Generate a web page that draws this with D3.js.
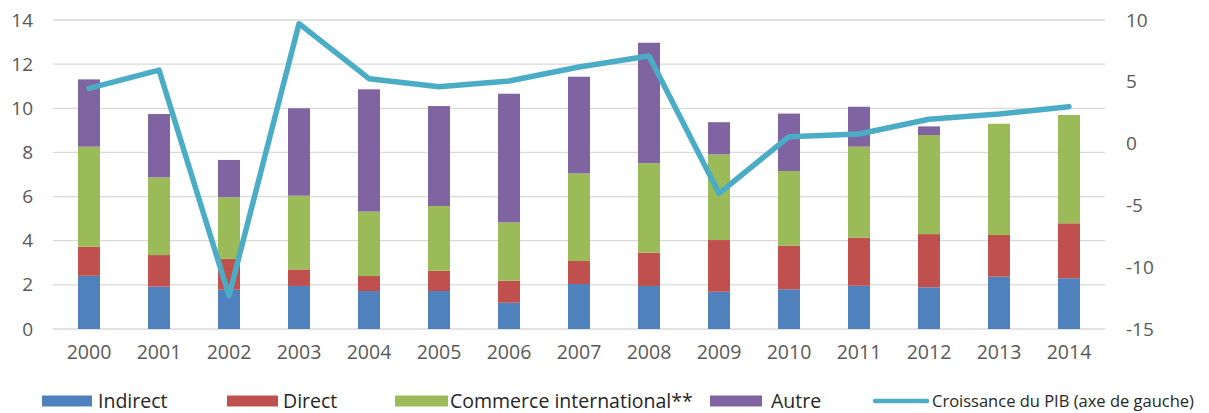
<!DOCTYPE html>
<html>
<head>
<meta charset="utf-8">
<script src="https://cdn.jsdelivr.net/npm/d3@7"></script>
<style>
  html, body { margin: 0; padding: 0; background: #fff; }
  svg { display: block; }
  text { font-family: "Open Sans", sans-serif; }
</style>
</head>
<body>
<svg id="chart" width="1209" height="413"></svg>
<script>
const years = ["2000","2001","2002","2003","2004","2005","2006","2007","2008","2009","2010","2011","2012","2013","2014"];
const indirect = [2.41, 1.92, 1.78, 1.95, 1.72, 1.72, 1.19, 2.04, 1.95, 1.69, 1.80, 1.96, 1.89, 2.37, 2.30];
const direct   = [1.32, 1.43, 1.40, 0.75, 0.68, 0.92, 1.00, 1.04, 1.51, 2.34, 1.97, 2.18, 2.41, 1.89, 2.49];
const commerce = [4.53, 3.52, 2.79, 3.34, 2.92, 2.93, 2.64, 3.97, 4.05, 3.88, 3.39, 4.12, 4.49, 5.04, 4.91];
const autre    = [3.05, 2.87, 1.69, 3.96, 5.54, 4.53, 5.83, 4.38, 5.46, 1.46, 2.60, 1.81, 0.39, 0.00, 0.00];
const pib      = [4.47, 5.95, -12.3, 9.7, 5.25, 4.6, 5.06, 6.2, 7.09, -4.02, 0.56, 0.78, 1.97, 2.4, 2.99];
const leftTicks  = [0, 2, 4, 6, 8, 10, 12, 14];
const rightTicks = [-15, -10, -5, 0, 5, 10];
const seriesNames = ["Indirect", "Direct", "Commerce international**", "Autre"];
const lineName = "Croissance du PIB (axe de gauche)";
const colors = ["#4F81BD", "#C0504D", "#9BBB59", "#8064A2"];
const lineColor = "#4BACC6";

const svg = d3.select("#chart");
const plot = { left: 54, right: 1104, top: 20, bottom: 329 };

const x = d3.scaleBand().domain(years).range([plot.left, plot.right])
  .paddingInner(0.686).paddingOuter(0.343);
const yL = d3.scaleLinear().domain([0, 14]).range([plot.bottom, plot.top]);
const yR = d3.scaleLinear().domain([-15, 10]).range([plot.bottom, plot.top]);

// gridlines
svg.append("g").selectAll("line").data(leftTicks).join("line")
  .attr("x1", plot.left - 1).attr("x2", plot.right + 1)
  .attr("y1", d => yL(d)).attr("y2", d => yL(d))
  .attr("stroke", "#d9d9d9").attr("stroke-width", 1.3);

// stacked bars
const table = years.map((yr, i) => ({ year: yr, s0: indirect[i], s1: direct[i], s2: commerce[i], s3: autre[i] }));
const stack = d3.stack().keys(["s0","s1","s2","s3"])(table);
svg.append("g").selectAll("g").data(stack).join("g")
  .attr("fill", (d, i) => colors[i])
  .selectAll("rect").data(d => d).join("rect")
  .attr("x", d => x(d.data.year))
  .attr("width", x.bandwidth())
  .attr("y", d => yL(d[1]))
  .attr("height", d => Math.max(0, yL(d[0]) - yL(d[1])));

// line
const line = d3.line().x((d, i) => x(years[i]) + x.bandwidth() / 2).y(d => yR(d));
svg.append("path").datum(pib)
  .attr("d", line).attr("fill", "none")
  .attr("stroke", lineColor).attr("stroke-width", 5.5)
  .attr("stroke-linejoin", "round").attr("stroke-linecap", "round");

// left axis
const axL = d3.axisLeft(yL).tickValues(leftTicks).tickSize(0).tickPadding(0).tickFormat(d => String(d));
const gL = svg.append("g").attr("transform", "translate(33,0)").call(axL);
gL.select(".domain").remove();
gL.selectAll("text").attr("font-size", 19).attr("fill", "#595959")
  .attr("font-family", "'Open Sans', sans-serif");

// right axis
const axR = d3.axisRight(yR).tickValues(rightTicks).tickSize(0).tickPadding(0).tickFormat(d => String(d));
const gR = svg.append("g").attr("transform", "translate(1126,0)").call(axR);
gR.select(".domain").remove();
gR.selectAll("text").attr("font-size", 19).attr("fill", "#595959")
  .attr("font-family", "'Open Sans', sans-serif");

// bottom axis
const axB = d3.axisBottom(x).tickSize(0).tickPadding(0);
const gB = svg.append("g").attr("transform", "translate(0,345)").call(axB);
gB.select(".domain").remove();
gB.selectAll("text").attr("font-size", 19.5).attr("fill", "#595959")
  .attr("font-family", "'Open Sans', sans-serif");

// legend
const legY = 401;
const legItems = [
  { sx: 42, sw: 50, tx: 98, name: seriesNames[0], color: colors[0] },
  { sx: 227, sw: 51, tx: 283, name: seriesNames[1], color: colors[1] },
  { sx: 395, sw: 53, tx: 450, name: seriesNames[2], color: colors[2] },
  { sx: 710, sw: 52, tx: 771, name: seriesNames[3], color: colors[3] }
];
const leg = svg.append("g");
legItems.forEach(it => {
  leg.append("rect").attr("x", it.sx).attr("y", legY - 5.5).attr("width", it.sw).attr("height", 11)
    .attr("fill", it.color);
  leg.append("text").attr("x", it.tx).attr("y", legY).attr("dy", "0.35em")
    .attr("font-size", 19.5).attr("fill", "#262626").text(it.name);
});
leg.append("line").attr("x1", 875).attr("x2", 927).attr("y1", legY).attr("y2", legY)
  .attr("stroke", lineColor).attr("stroke-width", 4.5).attr("stroke-linecap", "round");
leg.append("text").attr("x", 932).attr("y", legY).attr("dy", "0.35em")
  .attr("font-size", 16.5).attr("fill", "#262626").text(lineName);
</script>
</body>
</html>
